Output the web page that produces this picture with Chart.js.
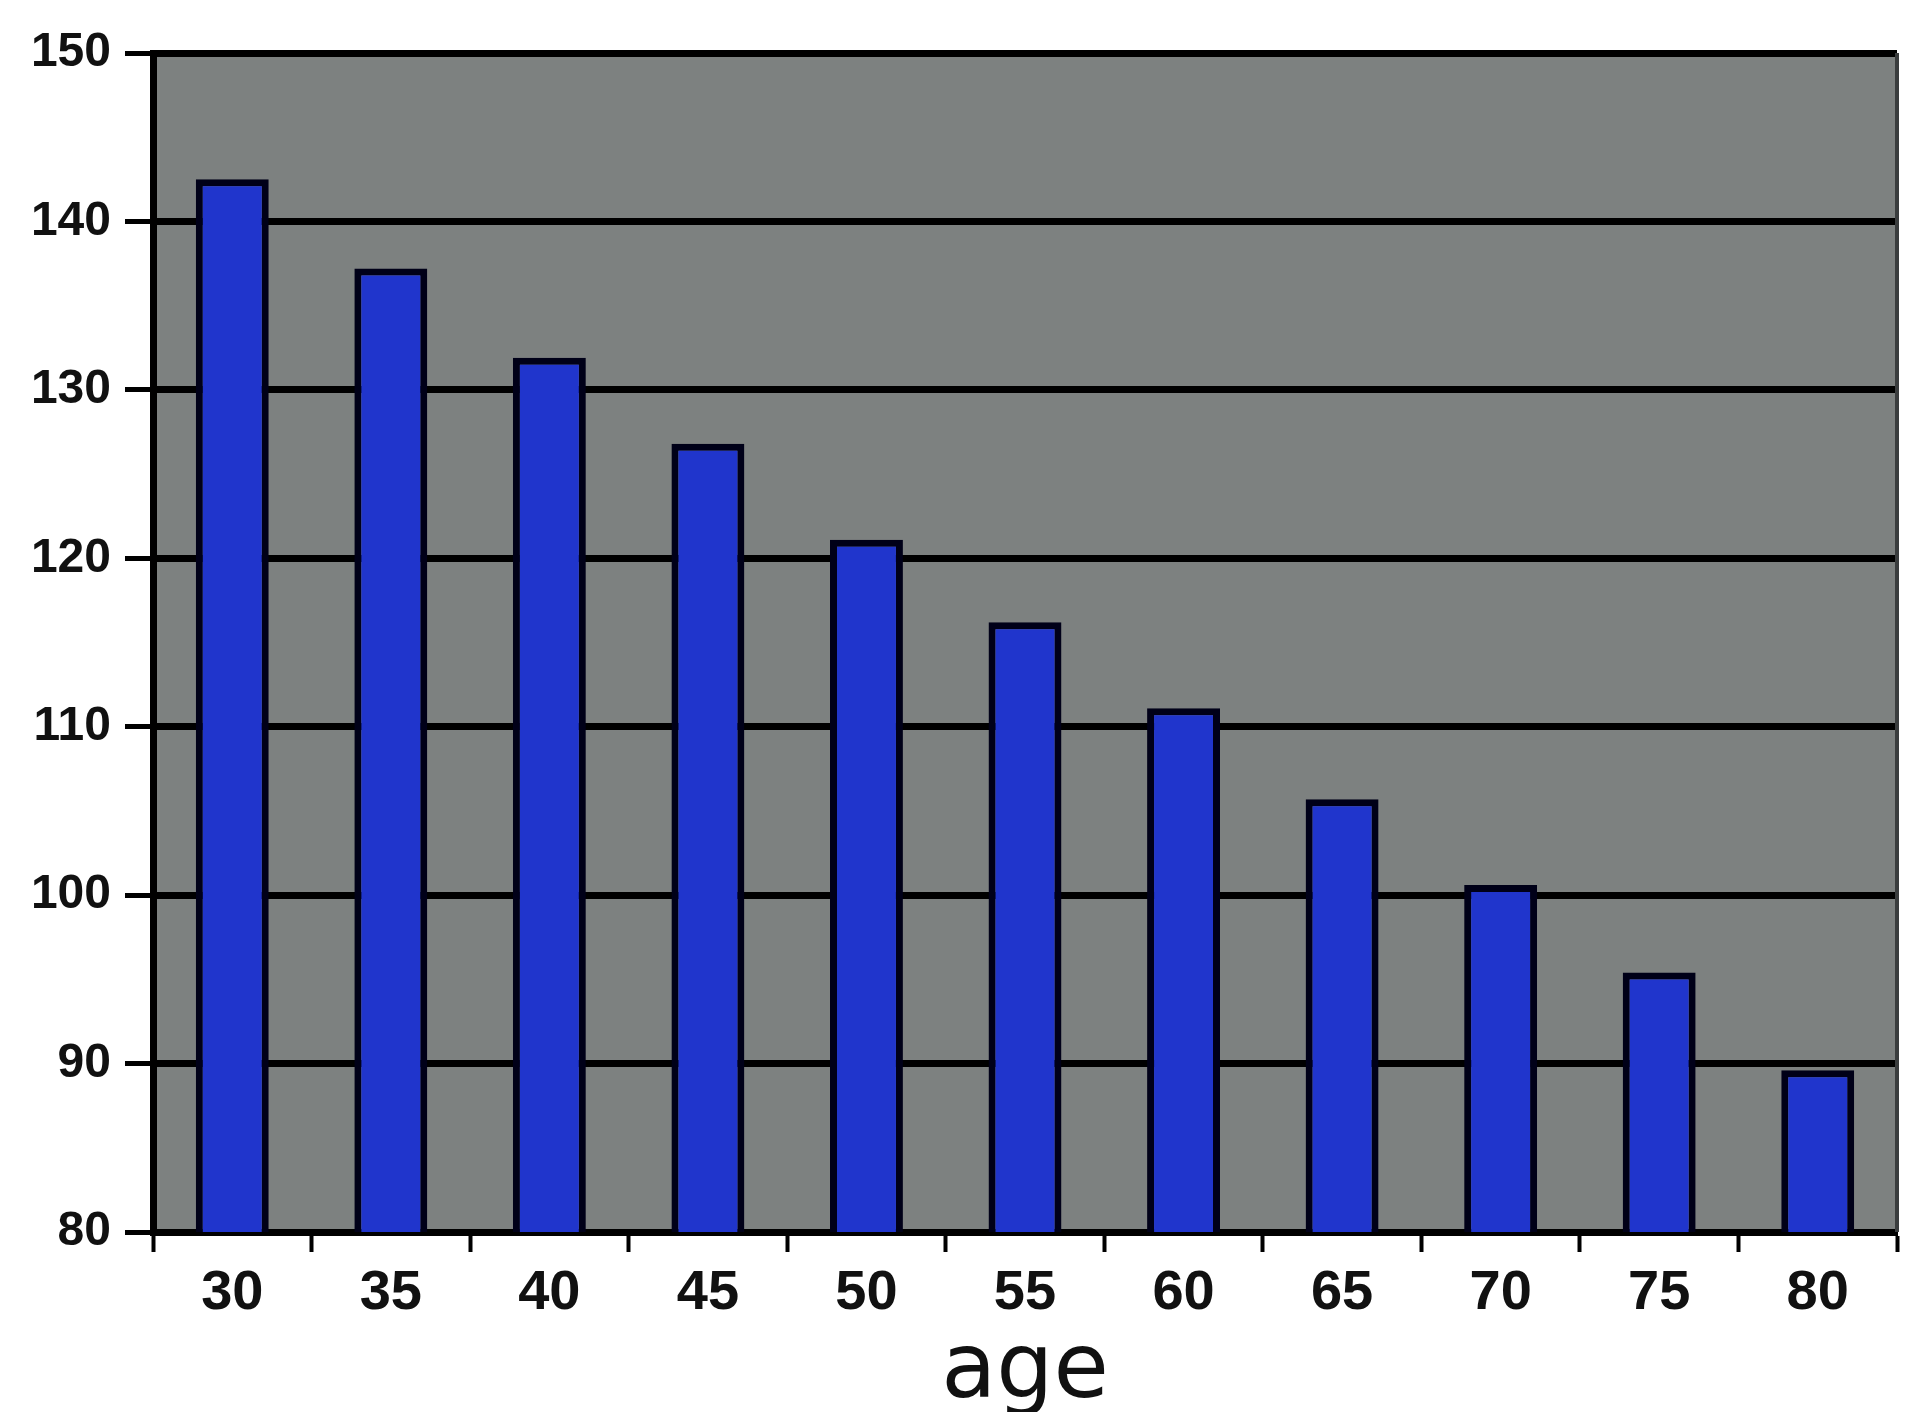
<!DOCTYPE html>
<html>
<head>
<meta charset="utf-8">
<script src="https://cdn.jsdelivr.net/npm/chart.js@4/dist/chart.umd.min.js"></script>
<style>
  html, body { margin: 0; padding: 0; background: #ffffff; }
  #wrap { width: 1906px; height: 1412px; }
</style>
</head>
<body>
<div id="wrap"><canvas id="c" width="1906" height="1412"></canvas></div>
<script>
const ages = ['30', '35', '40', '45', '50', '55', '60', '65', '70', '75', '80'];
const values = [142.5, 137.2, 131.9, 126.8, 121.1, 116.2, 111.1, 105.7, 100.6, 95.4, 89.6];
const yMin = 80;
const yMax = 150;
const yStep = 10;
const xTitle = 'age';

const plotBg = {
  id: 'plotBg',
  beforeDraw(chart) {
    const { ctx, chartArea: a } = chart;
    ctx.save();
    ctx.fillStyle = '#7d8180';
    ctx.fillRect(a.left, a.top, a.right - a.left, a.bottom - a.top);
    ctx.restore();
  },
  afterDraw(chart) {
    const { ctx, chartArea: a } = chart;
    ctx.save();
    ctx.strokeStyle = '#3a3d3e';
    ctx.lineWidth = 4;
    ctx.beginPath();
    ctx.moveTo(a.right, a.top);
    ctx.lineTo(a.right, a.bottom);
    ctx.stroke();
    ctx.restore();
  }
};

new Chart(document.getElementById('c'), {
  type: 'bar',
  data: {
    labels: ages,
    datasets: [{
      data: values,
      backgroundColor: '#2035cc',
      borderColor: '#000018',
      borderWidth: 7,
      barPercentage: 0.46,
      categoryPercentage: 1.0
    }]
  },
  options: {
    responsive: false,
    devicePixelRatio: 1,
    animation: false,
    layout: { padding: { left: 0, right: 9, top: 53, bottom: 0 } },
    plugins: {
      legend: { display: false },
      tooltip: { enabled: false }
    },
    scales: {
      x: {
        offset: true,
        grid: {
          offset: true,
          drawOnChartArea: false,
          drawTicks: true,
          tickLength: 20,
          tickColor: '#000000',
          tickWidth: 4
        },
        border: { display: true, color: '#000000', width: 7 },
        ticks: {
          color: '#111111',
          padding: 8,
          font: { family: "'Liberation Sans', Arial, sans-serif", size: 56, weight: 'bold' }
        },
        title: {
          display: true,
          text: xTitle,
          color: '#111111',
          padding: { top: 0, bottom: 0 },
          font: { family: "'DejaVu Sans', sans-serif", size: 90, weight: 'normal', lineHeight: 0.85 }
        },
        afterFit(scale) { scale.height = 180; }
      },
      y: {
        min: yMin,
        max: yMax,
        ticks: {
          stepSize: yStep,
          color: '#111111',
          padding: 14,
          font: { family: "'Liberation Sans', Arial, sans-serif", size: 48, weight: 'bold' }
        },
        grid: {
          color: '#000000',
          lineWidth: 7,
          drawTicks: true,
          tickLength: 28,
          tickColor: '#000000',
          tickWidth: 5
        },
        border: { display: true, color: '#000000', width: 7 },
        afterFit(scale) { scale.width = 153; }
      }
    }
  },
  plugins: [plotBg]
});
</script>
</body>
</html>
